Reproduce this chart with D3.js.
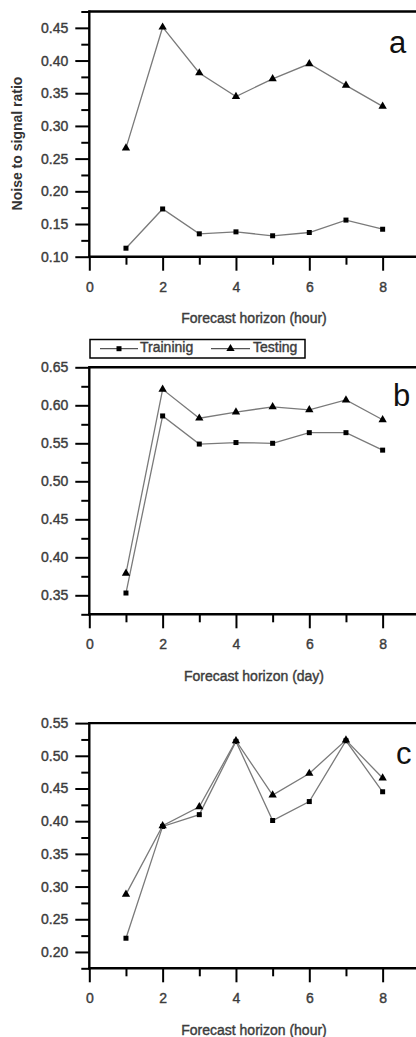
<!DOCTYPE html>
<html>
<head>
<meta charset="utf-8">
<script src="https://cdn.jsdelivr.net/npm/d3@7"></script>
<style>
  html, body { margin: 0; padding: 0; background: #fff; }
  svg { display: block; }
  text { font-family: Arial, "Liberation Sans", sans-serif; }
</style>
</head>
<body>
<svg id="chart" width="416" height="1037"></svg>
<script>
// ---------- data ----------
const horizon = [1, 2, 3, 4, 5, 6, 7, 8];

const trainA = [0.113, 0.173, 0.135, 0.138, 0.132, 0.137, 0.156, 0.142];
const testA  = [0.266, 0.451, 0.381, 0.345, 0.372, 0.395, 0.362, 0.330];

const trainB = [0.353, 0.586, 0.549, 0.551, 0.550, 0.564, 0.564, 0.541];
const testB  = [0.379, 0.621, 0.583, 0.591, 0.598, 0.594, 0.607, 0.581];

const trainC = [0.221, 0.392, 0.410, 0.522, 0.401, 0.430, 0.523, 0.445];
const testC  = [0.288, 0.393, 0.422, 0.523, 0.440, 0.473, 0.524, 0.466];

const xMajorTicks = [0, 2, 4, 6, 8];
const xMinorTicks = [1, 3, 5, 7, 9];
const panelLetters = ["a", "b", "c"];
const xTitles = ["Forecast horizon (hour)", "Forecast horizon (day)", "Forecast horizon (hour)"];
const yTitle = "Noise to signal ratio";
const seriesNames = ["Traininig", "Testing"];

// ---------- layout ----------
const svg = d3.select("#chart");
svg.append("rect").attr("width", 416).attr("height", 1037).attr("fill", "#fff");

const xRange = [89.3, 419.3];
const panels = [
  { train: trainA, test: testA, dom: [0.10, 0.475], rng: [256.7, 11.5], letterPos: [389, 53] },
  { train: trainB, test: testB, dom: [0.325, 0.65], rng: [614.3, 367.3], letterPos: [393, 406] },
  { train: trainC, test: testC, dom: [0.175, 0.55], rng: [968.3, 723.1], letterPos: [396, 764] }
];

function majorsOf(dom) {
  const out = [];
  for (let v = Math.ceil(dom[0] / 0.05 - 1e-6) * 0.05; v <= dom[1] + 1e-6; v += 0.05) out.push(+v.toFixed(3));
  return out;
}
function minorsOf(dom) {
  const out = [];
  for (let v = Math.ceil((dom[0] - 0.025) / 0.05 - 1e-6) * 0.05 + 0.025; v <= dom[1] + 1e-6; v += 0.05) {
    if (v >= dom[0] - 1e-6) out.push(+v.toFixed(3));
  }
  return out;
}

const labelColor = "#3c3c3c";

function heavy(sel) {
  return sel.attr("fill", labelColor).attr("stroke", labelColor).attr("stroke-width", 0.4);
}

panels.forEach((p, i) => {
  const x = d3.scaleLinear().domain([0, 9]).range(xRange);
  const y = d3.scaleLinear().domain(p.dom).range(p.rng);
  const g = svg.append("g");

  // y axis majors
  const yMaj = g.append("g").attr("transform", `translate(${xRange[0]},0)`)
    .call(d3.axisLeft(y).tickValues(majorsOf(p.dom)).tickSize(14).tickSizeOuter(0)
      .tickPadding(7).tickFormat(d3.format(".2f")));
  const yMin = g.append("g").attr("transform", `translate(${xRange[0]},0)`)
    .call(d3.axisLeft(y).tickValues(minorsOf(p.dom)).tickSize(8).tickSizeOuter(0).tickFormat(""));
  // x axis
  const xMaj = g.append("g").attr("transform", `translate(0,${p.rng[0]})`)
    .call(d3.axisBottom(x).tickValues(xMajorTicks).tickSize(14).tickSizeOuter(0)
      .tickPadding(11).tickFormat(d3.format("d")));
  const xMin = g.append("g").attr("transform", `translate(0,${p.rng[0]})`)
    .call(d3.axisBottom(x).tickValues(xMinorTicks).tickSize(8).tickSizeOuter(0).tickFormat(""));

  [yMaj, yMin, xMaj, xMin].forEach(a => {
    a.select(".domain").remove();
    a.selectAll(".tick line").attr("stroke", "#000").attr("stroke-width", 2);
    heavy(a.selectAll(".tick text")).attr("font-size", 14)
      .attr("font-family", "Arial, 'Liberation Sans', sans-serif");
  });

  // frame: left, bottom, top
  g.append("line").attr("x1", xRange[0]).attr("x2", xRange[0]).attr("y1", p.rng[1] - 1).attr("y2", p.rng[0] + 1)
    .attr("stroke", "#000").attr("stroke-width", 2.4);
  g.append("line").attr("x1", xRange[0] - 1).attr("x2", 416).attr("y1", p.rng[0]).attr("y2", p.rng[0])
    .attr("stroke", "#000").attr("stroke-width", 2.4);
  g.append("line").attr("x1", xRange[0] - 1).attr("x2", 416).attr("y1", p.rng[1]).attr("y2", p.rng[1])
    .attr("stroke", "#000").attr("stroke-width", 2.4);

  const line = d3.line().x((d, k) => x(horizon[k])).y(d => y(d));
  [p.train, p.test].forEach((s, si) => {
    g.append("path").datum(s).attr("d", line).attr("fill", "none")
      .attr("stroke", "#7a7a7a").attr("stroke-width", 1.3);
    const sym = d3.symbol().type(si === 0 ? d3.symbolSquare : d3.symbolTriangle).size(si === 0 ? 25 : 30);
    g.selectAll(null).data(s).enter().append("path")
      .attr("d", sym)
      .attr("transform", (d, k) => `translate(${x(horizon[k])},${y(d)})`)
      .attr("fill", "#000");
  });

  // panel letter
  g.append("text").attr("x", p.letterPos[0]).attr("y", p.letterPos[1])
    .attr("font-size", 31).attr("fill", "#111").text(panelLetters[i]);

  // x title
  heavy(g.append("text").attr("x", 254).attr("y", p.rng[0] + 62.5)
    .attr("text-anchor", "middle").attr("dominant-baseline", "middle")
    .attr("font-size", 14)).text(xTitles[i]);

  if (i === 0) {
    g.append("text").attr("transform", "translate(18.5,143.5) rotate(-90)")
      .attr("text-anchor", "middle").attr("dominant-baseline", "middle")
      .attr("font-size", 14).attr("font-weight", "bold").attr("fill", "#333").text(yTitle);
  }

  if (i === 1) {
    const lg = svg.append("g");
    lg.append("rect").attr("x", 90).attr("y", 339.5).attr("width", 215).attr("height", 18.5)
      .attr("fill", "#fff").attr("stroke", "#000").attr("stroke-width", 1.5);
    const entries = [
      { x1: 100, x2: 138, mx: 119, tx: 140, sym: d3.symbolSquare, size: 25 },
      { x1: 211, x2: 250, mx: 230.5, tx: 253, sym: d3.symbolTriangle, size: 30 }
    ];
    entries.forEach((e, k) => {
      lg.append("line").attr("x1", e.x1).attr("x2", e.x2).attr("y1", 348.7).attr("y2", 348.7)
        .attr("stroke", "#555").attr("stroke-width", 1.3);
      lg.append("path").attr("d", d3.symbol().type(e.sym).size(e.size)())
        .attr("transform", `translate(${e.mx},348.7)`).attr("fill", "#000");
      heavy(lg.append("text").attr("x", e.tx).attr("y", 348.7).attr("dominant-baseline", "middle")
        .attr("font-size", 14)).text(seriesNames[k]);
    });
  }
});
</script>
</body>
</html>
